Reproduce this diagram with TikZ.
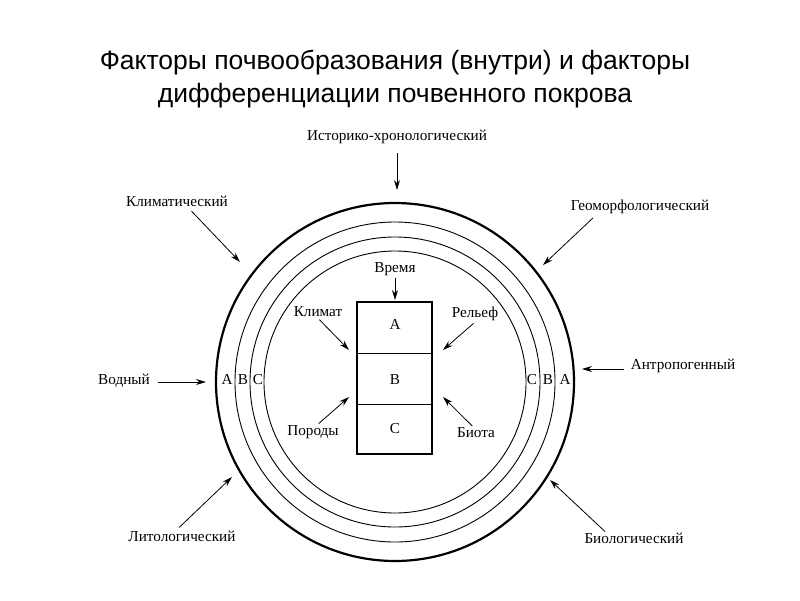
\documentclass[tikz,border=0pt]{standalone}
\usepackage{fontspec}
\setmainfont{Liberation Serif}
\newfontfamily\titlefont{Liberation Sans}
\usetikzlibrary{arrows.meta}
\begin{document}
\begin{tikzpicture}[x=1pt, y=-1pt,
        factor/.style={font=\fontsize{15.2}{17}\selectfont, inner sep=1pt},
        layer/.style={font=\fontsize{15.2}{17}\selectfont, inner sep=0pt, anchor=base},
        push/.style={-{Stealth[length=10pt, width=6pt]}, line width=0.8pt}]
        \useasboundingbox[fill=white] (0, 0) rectangle (800, 600);
        % Title
        \node[font=\titlefont\fontsize{26.5}{33}\selectfont, align=center] (title) at (395, 79)
            {Факторы почвообразования (внутри) и факторы\\дифференциации почвенного покрова};
        % Circles
        \coordinate (o) at (395, 382);
        \draw[line width=2.2pt] (o) circle (179);
        \draw[line width=0.9pt] (o) circle (160);
        \draw[line width=0.9pt] (o) circle (145);
        \draw[line width=0.9pt] (o) circle (131);
        % Layer letters in the rings
        \node[layer] (la) at (227, 384) {A};
        \node[layer] (lb) at (243, 384) {B};
        \node[layer] (lc) at (258, 384) {C};
        \node[layer] (rc) at (532, 384) {C};
        \node[layer] (rb) at (548, 384) {B};
        \node[layer] (ra) at (565, 384) {A};
        % Soil profile
        \draw[line width=2pt] (357, 302) rectangle (432, 454);
        \draw[line width=0.9pt] (357, 353) -- (432, 353);
        \draw[line width=0.9pt] (357, 404) -- (432, 404);
        \node[layer] (ha) at (395, 329) {A};
        \node[layer] (hb) at (395, 384) {B};
        \node[layer] (hc) at (395, 433) {C};
        % Factors of soil formation
        \node[factor] (time) at (395, 269) {Время};
        \node[factor] (climate) at (318, 312) {Климат};
        \node[factor] (relief) at (475, 314) {Рельеф};
        \node[factor] (rocks) at (313, 432) {Породы};
        \node[factor] (biota) at (476, 433) {Биота};
        \coordinate (time-in) at (395, 300);
        \coordinate (climate-in) at (349, 350);
        \coordinate (relief-in) at (443, 350);
        \coordinate (rocks-in) at (349, 397);
        \coordinate (biota-in) at (443, 397);
        \draw[push, shorten <=1pt] (time.south) -- (time-in);
        \draw[push, shorten <=2pt] (climate.south) -- (climate-in);
        \draw[push, shorten <=2pt] (relief.south) -- (relief-in);
        \draw[push, shorten <=1pt] ([xshift=5pt]rocks.north) -- (rocks-in);
        \draw[push, shorten <=1pt] ([xshift=-3pt]biota.north) -- (biota-in);
        % Factors of differentiation
        \node[factor] (hist) at (397, 137) {Историко-хронологический};
        \node[factor] (clim) at (177, 201) {Климатический};
        \node[factor] (geo) at (640, 207) {Геоморфологический};
        \node[factor] (water) at (124, 381) {Водный};
        \node[factor] (anthr) at (683, 366) {Антропогенный};
        \node[factor] (lith) at (182, 536) {Литологический};
        \node[factor] (bio) at (634, 538) {Биологический};
        \coordinate (hist-in) at (397, 190);
        \coordinate (clim-in) at (240, 262);
        \coordinate (geo-in) at (543, 265);
        \coordinate (water-in) at (206, 382);
        \coordinate (anthr-in) at (582, 369);
        \coordinate (lith-in) at (232, 477);
        \coordinate (bio-in) at (550, 480);
        \draw[push, shorten <=8pt] (hist.south) -- (hist-in);
        \draw[push, shorten <=5pt] ([xshift=11pt]clim.south) -- (clim-in);
        \draw[push, shorten <=4pt] ([xshift=-44pt]geo.south) -- (geo-in);
        \draw[push, shorten <=7pt] ([yshift=-1pt]water.east) -- (water-in);
        \draw[push, shorten <=6pt] ([yshift=-3pt]anthr.west) -- (anthr-in);
        \draw[push, shorten <=3pt] ([xshift=-5pt]lith.north) -- (lith-in);
        \draw[push] ([xshift=-29pt]bio.north) -- (bio-in);
    \end{tikzpicture}
\end{document}
